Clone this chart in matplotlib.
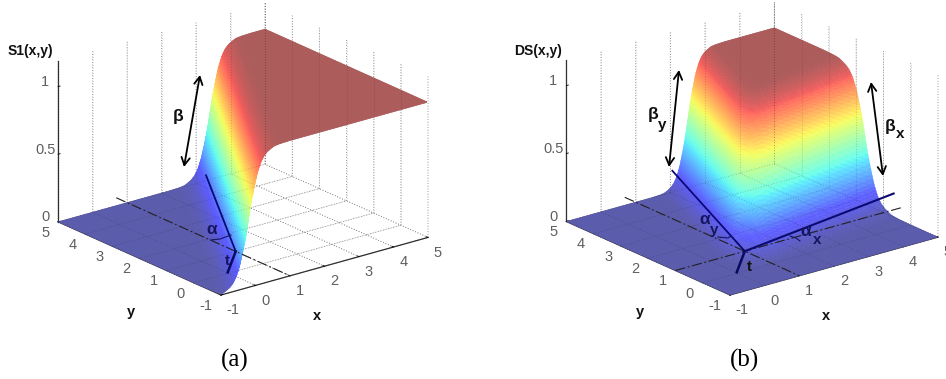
import numpy as np
import matplotlib
matplotlib.use("Agg")
import matplotlib.pyplot as plt
from mpl_toolkits.mplot3d import proj3d

# ---- values ----
x_ticks = [-1, 0, 1, 2, 3, 4, 5]
y_ticks = [-1, 0, 1, 2, 3, 4, 5]
z_ticks = [0, 0.5, 1]
z_tick_labels = ["0", "0.5", "1"]
xy_tick_labels = ["-1", "0", "1", "2", "3", "4", "5"]
z_top = 1.19
# height of a wall against the distance from its foot line, read along the step
wall_offset = [-1.2, -0.9, -0.75, -0.65, -0.55, -0.45, -0.35, -0.25, -0.15, -0.07, 0.0,
               0.07, 0.15, 0.25, 0.35, 0.45, 0.55, 0.65, 0.75, 0.9, 1.2]
wall_height = [0.0, 0.003, 0.008, 0.02, 0.035, 0.06, 0.105, 0.18, 0.29, 0.39, 0.5,
               0.61, 0.71, 0.82, 0.895, 0.94, 0.965, 0.98, 0.992, 0.997, 1.0]
# foot line of the wall in panel (a): x at the y=-1 and y=5 edges
a_foot_y = [-1, 5]
a_foot_x = [-0.2, 3.4]
# foot lines in panel (b)
b_foot_y = [-1, 5]
b_foot_x = [0.25, 2.5]
b_side_x = [-1, 5]
b_side_y = [0.67, 1.67]
b_width_x = 0.9
b_width_y = 1.3
surface_opacity = 0.64

W, H = 946, 379
fig = plt.figure(figsize=(W / 100, H / 100), dpi=100, facecolor="white")
plt.rcParams["font.family"] = ["Liberation Sans", "DejaVu Sans"]
GRAY = "#5f5f5f"


def make_axes(rect):
    ax = fig.add_axes(rect, projection="3d", proj_type="ortho",
                      computed_zorder=False)
    ax.patch.set_alpha(0)
    ax.view_init(elev=20.7, azim=-128.2)
    ax.set_xlim(-1, 5, view_margin=0)
    ax.set_ylim(-1, 5, view_margin=0)
    ax.set_zlim(0, z_top, view_margin=0)
    ax.set_xticks(x_ticks)
    ax.set_xticklabels(xy_tick_labels)
    ax.set_yticks(y_ticks)
    ax.set_yticklabels(xy_tick_labels)
    ax.set_zticks(z_ticks)
    ax.set_zticklabels(z_tick_labels)
    for axis in (ax.xaxis, ax.yaxis, ax.zaxis):
        axis.set_pane_color((1, 1, 1, 0))
        axis.pane.set_edgecolor((1, 1, 1, 0))
        axis.line.set_color("#333333")
        axis.line.set_linewidth(0.9)
        axis._axinfo["grid"].update(color="#777777", linewidth=0.6, linestyle=(0, (1, 2.2)))
        axis._axinfo["tick"].update(inward_factor=0.0, outward_factor=0.12)
        axis._axinfo["tick"]["linewidth"] = {True: 0.6, False: 0.6}
        axis._axinfo["tick"]["color"] = "#333333"
    ax.zaxis._axinfo["grid"]["linewidth"] = 0
    ax.tick_params(axis="x", labelsize=10.5, labelcolor=GRAY, pad=-3)
    ax.tick_params(axis="y", labelsize=10.5, labelcolor=GRAY, pad=-2)
    ax.tick_params(axis="z", labelsize=10.5, labelcolor=GRAY, pad=-3)
    return ax


def align_labels(ax):
    for t in ax.xaxis.get_major_ticks():
        t.label1.set_ha("left")
    for t in ax.yaxis.get_major_ticks():
        t.label1.set_ha("right")
        t.label1.set_va("center_baseline")
    for t in ax.zaxis.get_major_ticks():
        t.label1.set_va("baseline")


def to_px(ax, x, y, z):
    X, Y, _ = proj3d.proj_transform(x, y, z, ax.get_proj())
    p = ax.transData.transform((X, Y))
    return p[0], H - p[1]


def place(ax, corner_px, right_px):
    zoom = 1.0
    aspect = (1, 1, 0.653)
    for _ in range(4):
        ax.set_box_aspect(aspect, zoom=zoom)
        ax.apply_aspect()
        a = to_px(ax, -1, -1, 0)
        b = to_px(ax, 5, -1, 0)
        zoom *= (right_px[0] - corner_px[0]) / (b[0] - a[0])
        ax.set_box_aspect(aspect, zoom=zoom)
        ax.apply_aspect()
        a = to_px(ax, -1, -1, 0)
        pos = ax.get_position(original=True)
        ax.set_position([pos.x0 + (corner_px[0] - a[0]) / W,
                         pos.y0 - (corner_px[1] - a[1]) / H,
                         pos.width, pos.height])
        ax.apply_aspect()


def surface(ax, Z):
    # washed-out jet: the translucent look of the surface over a white page
    rgba = plt.get_cmap("jet")(np.clip(Z, 0, 1))
    rgba[..., :3] = rgba[..., :3] * surface_opacity + (1 - surface_opacity)
    ax.plot_surface(X, Y, Z, facecolors=rgba, rstride=1, cstride=1, shade=False,
                    linewidth=0.3, antialiased=True, zorder=2)
    # grid seen through the surface
    seen = dict(color="black", alpha=0.22, lw=0.6, ls=(0, (1, 2.2)), zorder=3)
    for v in x_ticks:
        ax.plot([v, v], [-1, 5], [0, 0], **seen)
        ax.plot([v, v], [5, 5], [0, z_top], **seen)
    for v in y_ticks:
        ax.plot([-1, 5], [v, v], [0, 0], **seen)
        ax.plot([5, 5], [v, v], [0, z_top], **seen)


xs = np.linspace(-1, 5, 181)
ys = np.linspace(-1, 5, 181)
X, Y = np.meshgrid(xs, ys)

# Panel (a)
ax1 = make_axes([0.0, 0.0, 0.5, 1.0])
place(ax1, (221, 295), (428, 238))
foot = np.interp(Y, a_foot_y, a_foot_x)
Za = np.interp(X - foot, wall_offset, wall_height)
surface(ax1, Za)

# Panel (b)
ax2 = make_axes([0.5, 0.0, 0.5, 1.0])
place(ax2, (730, 295), (938, 238))
foot_x = np.interp(Y, b_foot_y, b_foot_x)
foot_y = np.interp(X, b_side_x, b_side_y)
Zb = (np.interp((X - foot_x) / b_width_x, wall_offset, wall_height)
      * np.interp((Y - foot_y) / b_width_y, wall_offset, wall_height))
surface(ax2, Zb)

for ax in (ax1, ax2):
    align_labels(ax)

NAVY = "#0a0a70"
for ax in (ax1, ax2):
    ax.plot([1, 1], [5.4, -1], [0, 0], color="#222222", lw=0.8,
            ls=(0, (9, 2.5, 1.5, 2.5)), zorder=5)
    ax.plot([1, 0.02], [1, 0.05], [0, 0], color="#0a0a60", lw=1.8, zorder=6)
ax1.plot([1, 3.5], [1, 5.27], [0, 0], color=NAVY, lw=1.3, zorder=6)
ax2.plot([1, 2.9], [1, 6.07], [0, 0], color=NAVY, lw=1.3, zorder=6)
ax2.plot([1, 5.94], [1, 1.82], [0, 0], color=NAVY, lw=1.5, zorder=6)
ax2.plot([-1, 5.5], [1, 1], [0, 0], color="#222222", lw=0.8,
         ls=(0, (9, 2.5, 1.5, 2.5)), zorder=5)

# Overlay in picture pixels for the hand-drawn annotations
ov = fig.add_axes([0, 0, 1, 1], facecolor="none")
ov.set_xlim(0, W)
ov.set_ylim(H, 0)
ov.axis("off")


def dbl_arrow(p, q):
    ov.annotate("", xy=p, xytext=q,
                arrowprops=dict(arrowstyle="<->,head_length=0.55,head_width=0.3",
                                color="black", lw=1.3, shrinkA=0, shrinkB=0))


dbl_arrow((200, 75), (184, 167))
dbl_arrow((679, 70), (669, 167))
dbl_arrow((871, 82), (883, 176))


def bold(x, y, s, size=11, color="#111111", family="Liberation Sans"):
    ov.text(x, y, s, fontsize=size, fontweight="bold", color=color, family=family,
            ha="center", va="center")


bold(30, 51, "S1(x,y)", 10)
bold(538, 51, "DS(x,y)", 10)
bold(131, 312, "y", 10.5)
bold(317, 316, "x", 10.5)
bold(640, 312, "y", 10.5)
bold(826, 316, "x", 10.5)
bold(178, 117, "β", 12.5)
bold(212, 230, "α", 12.5, "#151560")
bold(227, 261, "t", 11, "#151560")
bold(653, 115, "β", 12.5)
bold(662, 125, "y", 11)
bold(890, 126, "β", 12.5)
bold(900, 134, "x", 11)
bold(705, 220, "α", 12.5, "#151560")
bold(714, 230, "y", 11, "#151560")
bold(806, 232, "α", 12.5, "#151560")
bold(817, 240, "x", 11, "#151560")
bold(749, 267, "t", 11)

ov.plot([211, 220, 231], [240, 239, 235], color="#151560", lw=0.8)
ov.plot([718, 728, 731], [237, 238, 236], color="#151560", lw=0.8)
ov.plot([790, 796, 800], [236, 238, 241], color="#151560", lw=0.8)

ov.text(235, 360, "(a)", fontsize=18, family="Liberation Serif", color="black",
        ha="center", va="center")
ov.text(744, 360, "(b)", fontsize=18, family="Liberation Serif", color="black",
        ha="center", va="center")

fig.savefig("out.png", dpi=100, facecolor="white")
